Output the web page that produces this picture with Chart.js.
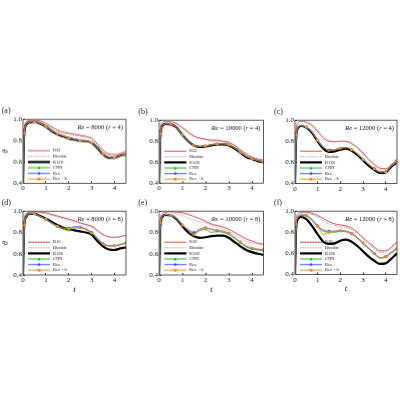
<!DOCTYPE html>
<html>
<head>
<meta charset="utf-8">
<script src="https://cdn.jsdelivr.net/npm/chart.js@4"></script>
<style>
  body { margin: 0; background: #fff; }
  #wrap { position: relative; width: 400px; height: 400px; overflow: hidden; }
  .panel { position: absolute; }
  .tag { position: absolute; font: 8px "Liberation Serif", serif; color: #222; }
</style>
</head>
<body>
<div id="wrap"></div>
<script>
const times = [0, 0.05, 0.15, 0.25, 0.5, 0.75, 1, 1.25, 1.5, 1.75, 2, 2.25, 2.5, 2.75, 3, 3.25, 3.5, 3.75, 4, 4.25, 4.5];
const yTicks = [0.4, 0.6, 0.8, 1.0];

// Re = 8000, r = 4
const a_low  = [0.4, 0.90, 0.98, 0.99, 0.99, 0.985, 0.96, 0.93, 0.90, 0.88, 0.87, 0.86, 0.85, 0.84, 0.82, 0.77, 0.71, 0.675, 0.67, 0.68, 0.70];
const a_bic  = [0.4, 0.89, 0.97, 0.98, 0.985, 0.975, 0.95, 0.92, 0.89, 0.87, 0.86, 0.85, 0.84, 0.83, 0.81, 0.76, 0.70, 0.665, 0.66, 0.67, 0.69];
const a_r128 = [0.4, 0.86, 0.95, 0.97, 0.975, 0.96, 0.93, 0.89, 0.86, 0.84, 0.82, 0.81, 0.80, 0.795, 0.78, 0.73, 0.67, 0.64, 0.64, 0.66, 0.67];
const a_cnn  = [0.4, 0.85, 0.95, 0.97, 0.975, 0.96, 0.93, 0.89, 0.865, 0.84, 0.825, 0.81, 0.80, 0.795, 0.78, 0.73, 0.67, 0.645, 0.64, 0.655, 0.67];
const a_res  = [0.4, 0.86, 0.95, 0.97, 0.975, 0.96, 0.93, 0.895, 0.865, 0.845, 0.825, 0.815, 0.80, 0.795, 0.78, 0.73, 0.675, 0.645, 0.64, 0.655, 0.67];
const a_resh = [0.4, 0.87, 0.95, 0.97, 0.975, 0.96, 0.93, 0.895, 0.865, 0.845, 0.825, 0.815, 0.80, 0.795, 0.78, 0.73, 0.675, 0.645, 0.64, 0.655, 0.67];

// Re = 10000, r = 4
const b_low  = [0.4, 0.90, 0.98, 0.99, 0.985, 0.97, 0.93, 0.89, 0.85, 0.83, 0.82, 0.81, 0.81, 0.80, 0.79, 0.76, 0.72, 0.68, 0.65, 0.63, 0.62];
const b_bic  = [0.4, 0.89, 0.97, 0.98, 0.975, 0.96, 0.92, 0.875, 0.84, 0.82, 0.81, 0.80, 0.80, 0.79, 0.78, 0.75, 0.71, 0.67, 0.64, 0.625, 0.61];
const b_r128 = [0.4, 0.86, 0.95, 0.965, 0.96, 0.93, 0.86, 0.80, 0.76, 0.745, 0.75, 0.76, 0.77, 0.77, 0.76, 0.73, 0.69, 0.65, 0.63, 0.61, 0.60];
const b_cnn  = [0.4, 0.80, 0.95, 0.965, 0.96, 0.93, 0.86, 0.80, 0.76, 0.75, 0.755, 0.765, 0.775, 0.775, 0.765, 0.735, 0.69, 0.655, 0.63, 0.615, 0.60];
const b_res  = [0.4, 0.85, 0.95, 0.965, 0.96, 0.93, 0.86, 0.80, 0.76, 0.75, 0.755, 0.765, 0.775, 0.775, 0.765, 0.735, 0.695, 0.655, 0.635, 0.615, 0.60];
const b_resh = [0.4, 0.87, 0.95, 0.965, 0.96, 0.93, 0.86, 0.80, 0.76, 0.75, 0.755, 0.765, 0.775, 0.775, 0.765, 0.735, 0.695, 0.655, 0.635, 0.615, 0.60];

// Re = 12000, r = 4
const c_low  = [0.4, 0.90, 0.98, 0.99, 0.98, 0.95, 0.89, 0.83, 0.80, 0.795, 0.80, 0.80, 0.78, 0.74, 0.69, 0.63, 0.58, 0.545, 0.54, 0.58, 0.63];
const c_bic  = [0.4, 0.89, 0.975, 0.99, 0.985, 0.96, 0.905, 0.85, 0.81, 0.80, 0.80, 0.795, 0.775, 0.73, 0.68, 0.62, 0.57, 0.535, 0.53, 0.57, 0.62];
const c_r128 = [0.4, 0.84, 0.93, 0.945, 0.93, 0.88, 0.80, 0.73, 0.70, 0.705, 0.72, 0.73, 0.71, 0.67, 0.62, 0.57, 0.53, 0.50, 0.505, 0.56, 0.60];
const c_cnn  = [0.4, 0.82, 0.93, 0.945, 0.93, 0.885, 0.805, 0.74, 0.71, 0.715, 0.73, 0.74, 0.72, 0.68, 0.63, 0.58, 0.54, 0.51, 0.51, 0.565, 0.60];
const c_res  = [0.4, 0.84, 0.93, 0.945, 0.935, 0.885, 0.81, 0.745, 0.715, 0.72, 0.735, 0.74, 0.72, 0.68, 0.63, 0.58, 0.54, 0.51, 0.51, 0.565, 0.605];
const c_resh = [0.4, 0.86, 0.935, 0.95, 0.935, 0.89, 0.81, 0.745, 0.715, 0.72, 0.735, 0.74, 0.72, 0.68, 0.63, 0.58, 0.54, 0.51, 0.51, 0.565, 0.605];

// Re = 8000, r = 8
const d_low  = [0.4, 0.90, 0.98, 0.99, 0.995, 0.99, 0.985, 0.97, 0.955, 0.94, 0.925, 0.91, 0.89, 0.875, 0.86, 0.82, 0.78, 0.76, 0.755, 0.76, 0.775];
const d_bic  = [0.4, 0.89, 0.975, 0.985, 0.99, 0.985, 0.975, 0.96, 0.945, 0.93, 0.915, 0.90, 0.885, 0.87, 0.85, 0.81, 0.775, 0.755, 0.75, 0.76, 0.77];
const d_r128 = [0.4, 0.86, 0.95, 0.975, 0.975, 0.955, 0.93, 0.90, 0.87, 0.845, 0.83, 0.82, 0.81, 0.80, 0.78, 0.72, 0.67, 0.64, 0.635, 0.65, 0.66];
const d_cnn  = [0.4, 0.80, 0.95, 0.975, 0.975, 0.95, 0.92, 0.885, 0.855, 0.83, 0.82, 0.84, 0.845, 0.83, 0.80, 0.74, 0.69, 0.675, 0.675, 0.685, 0.70];
const d_res  = [0.4, 0.86, 0.95, 0.975, 0.975, 0.95, 0.925, 0.89, 0.86, 0.84, 0.84, 0.855, 0.85, 0.83, 0.80, 0.745, 0.695, 0.675, 0.675, 0.685, 0.70];
const d_resh = [0.4, 0.87, 0.95, 0.975, 0.975, 0.95, 0.925, 0.89, 0.86, 0.84, 0.835, 0.85, 0.845, 0.825, 0.795, 0.74, 0.69, 0.675, 0.675, 0.69, 0.705];

// Re = 10000, r = 8
const e_low  = [0.4, 0.90, 0.98, 0.99, 0.995, 0.99, 0.985, 0.97, 0.95, 0.93, 0.905, 0.88, 0.865, 0.85, 0.83, 0.80, 0.77, 0.74, 0.72, 0.70, 0.69];
const e_bic  = [0.4, 0.89, 0.975, 0.985, 0.985, 0.975, 0.96, 0.935, 0.915, 0.90, 0.89, 0.87, 0.85, 0.83, 0.81, 0.78, 0.75, 0.72, 0.70, 0.69, 0.68];
const e_r128 = [0.4, 0.86, 0.95, 0.965, 0.96, 0.925, 0.86, 0.80, 0.765, 0.75, 0.755, 0.765, 0.77, 0.77, 0.75, 0.71, 0.67, 0.635, 0.615, 0.60, 0.59];
const e_cnn  = [0.4, 0.84, 0.95, 0.965, 0.96, 0.93, 0.87, 0.82, 0.79, 0.82, 0.83, 0.80, 0.81, 0.80, 0.785, 0.745, 0.705, 0.665, 0.645, 0.635, 0.63];
const e_res  = [0.4, 0.87, 0.95, 0.965, 0.96, 0.93, 0.87, 0.825, 0.80, 0.83, 0.845, 0.83, 0.82, 0.81, 0.79, 0.75, 0.71, 0.67, 0.65, 0.64, 0.635];
const e_resh = [0.4, 0.89, 0.955, 0.97, 0.96, 0.93, 0.87, 0.82, 0.78, 0.82, 0.84, 0.83, 0.82, 0.81, 0.79, 0.75, 0.71, 0.67, 0.655, 0.645, 0.64];

// Re = 12000, r = 8
const f_low  = [0.4, 0.90, 0.98, 0.99, 0.99, 0.98, 0.96, 0.93, 0.90, 0.88, 0.87, 0.86, 0.84, 0.80, 0.75, 0.70, 0.66, 0.625, 0.625, 0.66, 0.71];
const f_bic  = [0.4, 0.89, 0.975, 0.985, 0.985, 0.97, 0.945, 0.91, 0.88, 0.865, 0.855, 0.845, 0.825, 0.785, 0.735, 0.685, 0.645, 0.61, 0.61, 0.645, 0.70];
const f_r128 = [0.4, 0.84, 0.93, 0.945, 0.925, 0.86, 0.78, 0.71, 0.69, 0.695, 0.72, 0.73, 0.71, 0.67, 0.62, 0.57, 0.53, 0.50, 0.505, 0.55, 0.60];
const f_cnn  = [0.4, 0.83, 0.95, 0.96, 0.955, 0.915, 0.855, 0.81, 0.80, 0.80, 0.81, 0.805, 0.785, 0.745, 0.695, 0.645, 0.595, 0.555, 0.565, 0.605, 0.645];
const f_res  = [0.4, 0.87, 0.95, 0.965, 0.96, 0.92, 0.86, 0.82, 0.81, 0.81, 0.815, 0.81, 0.79, 0.75, 0.70, 0.65, 0.60, 0.56, 0.57, 0.61, 0.65];
const f_resh = [0.4, 0.88, 0.955, 0.97, 0.96, 0.92, 0.86, 0.78, 0.80, 0.81, 0.815, 0.81, 0.79, 0.75, 0.70, 0.65, 0.60, 0.56, 0.57, 0.61, 0.65];

const panels = [
  {tag: '(a)', re: '8000', r: '4', low: 'R32', data: [a_low, a_bic, a_r128, a_cnn, a_res, a_resh], box: [22.7, 117.3, 105, 65.4], ylab: true, xlab: false},
  {tag: '(b)', re: '10000', r: '4', low: 'R32', data: [b_low, b_bic, b_r128, b_cnn, b_res, b_resh], box: [159.3, 117.8, 105.5, 65.2], ylab: false, xlab: false},
  {tag: '(c)', re: '12000', r: '4', low: 'R32', data: [c_low, c_bic, c_r128, c_cnn, c_res, c_resh], box: [295, 117.5, 104, 65.5], ylab: false, xlab: false},
  {tag: '(d)', re: '8000', r: '8', low: 'R16', data: [d_low, d_bic, d_r128, d_cnn, d_res, d_resh], box: [22.7, 209, 105, 66], ylab: true, xlab: true},
  {tag: '(e)', re: '10000', r: '8', low: 'R16', data: [e_low, e_bic, e_r128, e_cnn, e_res, e_resh], box: [159.3, 209, 105.5, 66], ylab: false, xlab: true},
  {tag: '(f)', re: '12000', r: '8', low: 'R16', data: [f_low, f_bic, f_r128, f_cnn, f_res, f_resh], box: [295, 208.5, 104, 65.5], ylab: false, xlab: true},
];

const styles = [
  {color: '#e23a3a', width: 0.9, dash: [], marker: false},
  {color: '#a0a0a0', width: 0.9, dash: [1.5, 1], marker: false},
  {color: '#000000', width: 2.2, dash: [], marker: false},
  {color: '#22b022', halo: 'rgba(150,225,150,0.35)', width: 0.7, dash: [], marker: 'triangle'},
  {color: '#3050ff', halo: 'rgba(150,170,255,0.3)', width: 0.7, dash: [], marker: 'rectRot'},
  {color: '#ff8a1e', halo: 'rgba(255,200,150,0.35)', width: 0.7, dash: [], marker: 'rect'},
];

const serif = '"Liberation Serif", "DejaVu Serif", serif';

// frame, annotation and inset legend
const decor = {
  id: 'decor',
  afterDraw(chart, args, opts) {
    const {ctx, chartArea: ca} = chart;
    ctx.save();
    ctx.strokeStyle = '#333';
    ctx.lineWidth = 0.8;
    ctx.strokeRect(ca.left, ca.top, ca.right - ca.left, ca.bottom - ca.top);

    // Re = ... (r = ...)
    ctx.fillStyle = '#111';
    ctx.textBaseline = 'alphabetic';
    const parts = [['Re', true], [' = ' + opts.re + ' (', false], ['r', true], [' = ' + opts.r + ')', false]];
    let total = 0;
    parts.forEach(p => { ctx.font = (p[1] ? 'italic ' : '') + '6.5px ' + serif; total += ctx.measureText(p[0]).width; });
    let x = ca.right - 3 - total;
    parts.forEach(p => {
      ctx.font = (p[1] ? 'italic ' : '') + '6.5px ' + serif;
      ctx.fillText(p[0], x, ca.top + 10);
      x += ctx.measureText(p[0]).width;
    });

    // legend
    const names = [opts.low, 'Bicubic', 'R128', 'CNN', 'Res', 'Res + h'];
    ctx.font = '4.5px ' + serif;
    names.forEach((n, i) => {
      const st = styles[i];
      const y = ca.top + 31 + i * 5.6;
      const x0 = ca.left + 5, x1 = ca.left + 27;
      if (st.halo) {
        ctx.strokeStyle = st.halo; ctx.lineWidth = 2.5; ctx.setLineDash([]);
        ctx.beginPath(); ctx.moveTo(x0, y); ctx.lineTo(x1, y); ctx.stroke();
      }
      ctx.strokeStyle = st.color; ctx.lineWidth = st.width; ctx.setLineDash(st.dash);
      ctx.beginPath(); ctx.moveTo(x0, y); ctx.lineTo(x1, y); ctx.stroke();
      ctx.setLineDash([]);
      if (st.marker) {
        const cx = (x0 + x1) / 2;
        ctx.fillStyle = st.color;
        ctx.beginPath();
        if (st.marker === 'triangle') { ctx.moveTo(cx, y - 1.6); ctx.lineTo(cx + 1.6, y + 1.2); ctx.lineTo(cx - 1.6, y + 1.2); ctx.closePath(); }
        else if (st.marker === 'rectRot') { ctx.moveTo(cx, y - 1.7); ctx.lineTo(cx + 1.7, y); ctx.lineTo(cx, y + 1.7); ctx.lineTo(cx - 1.7, y); ctx.closePath(); }
        else { ctx.rect(cx - 1.4, y - 1.4, 2.8, 2.8); }
        ctx.fill();
      }
      ctx.fillStyle = '#111';
      ctx.textBaseline = 'middle';
      ctx.fillText(n, x1 + 3, y);
    });
    ctx.restore();
  }
};

const wrap = document.getElementById('wrap');

panels.forEach(p => {
  const [px, py, pw, ph] = p.box;
  const padL = 22, padT = 5, padR = 2, xAxisH = p.xlab ? 20 : 11;
  const holder = document.createElement('div');
  holder.className = 'panel';
  holder.style.left = (px - padL) + 'px';
  holder.style.top = (py - padT) + 'px';
  holder.style.width = (pw + padL + padR) + 'px';
  holder.style.height = (ph + padT + xAxisH) + 'px';
  const canvas = document.createElement('canvas');
  holder.appendChild(canvas);
  wrap.appendChild(holder);

  const tag = document.createElement('div');
  tag.className = 'tag';
  tag.textContent = p.tag;
  tag.style.left = (px - 21) + 'px';
  tag.style.top = (py - 11) + 'px';
  wrap.appendChild(tag);

  const labels = ['low', 'Bicubic', 'R128', 'CNN', 'Res', 'Res + h'];
  const datasets = [];
  // light halos under the learned-model lines
  [3, 4, 5].forEach(i => {
    datasets.push({
      label: labels[i] + ' halo', data: p.data[i],
      borderColor: styles[i].halo, borderWidth: 1.8, pointRadius: 0,
      cubicInterpolationMode: 'monotone', order: 10
    });
  });
  p.data.forEach((d, i) => {
    const st = styles[i];
    datasets.push({
      label: labels[i], data: d,
      borderColor: st.color, backgroundColor: st.color,
      borderWidth: st.width, borderDash: st.dash,
      cubicInterpolationMode: 'monotone',
      pointStyle: st.marker || 'circle',
      pointRadius: st.marker ? (c => { const t = times[c.dataIndex]; return (t === 0.05 || (t > 0 && t % 0.5 === 0)) ? 1.7 : 0; }) : 0,
      pointBorderWidth: 0,
      order: i === 2 ? 5 : 6 - i
    });
  });

  new Chart(canvas, {
    type: 'line',
    data: {labels: times, datasets: datasets},
    plugins: [decor],
    options: {
      responsive: true,
      maintainAspectRatio: false,
      animation: false,
      layout: {padding: {left: 0, top: padT, right: padR, bottom: 0}},
      plugins: {legend: {display: false}, tooltip: {enabled: false}, decor: {re: p.re, r: p.r, low: p.low}},
      scales: {
        x: {
          type: 'linear', min: 0, max: 4.5,
          afterBuildTicks: s => { s.ticks = [0, 1, 2, 3, 4].map(v => ({value: v})); },
          afterFit: s => { s.height = xAxisH; },
          grid: {display: true, drawOnChartArea: false, tickLength: -2, color: '#333'},
          border: {display: false},
          ticks: {font: {family: serif, size: 7}, color: '#111', padding: 3, maxRotation: 0},
          title: {display: p.xlab, text: 't', font: {family: serif, size: 9, style: 'italic'}, color: '#111', padding: 0}
        },
        y: {
          min: 0.4, max: 1.0,
          afterBuildTicks: s => { s.ticks = yTicks.map(v => ({value: v})); },
          afterFit: s => { s.width = padL; },
          grid: {display: true, drawOnChartArea: false, tickLength: -2, color: '#333'},
          border: {display: false},
          ticks: {font: {family: serif, size: 7}, color: '#111', padding: 3, callback: v => v.toFixed(1)},
          title: {display: p.ylab, text: 'θ', font: {family: serif, size: 8, style: 'italic'}, color: '#111', padding: 0}
        }
      }
    }
  });
});
</script>
</body>
</html>
